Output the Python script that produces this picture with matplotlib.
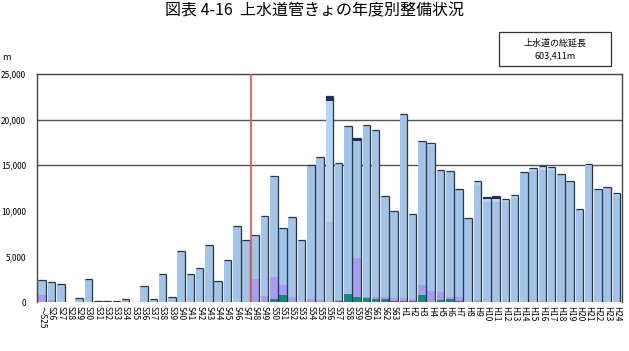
import matplotlib
matplotlib.use("Agg")
import numpy as np
import matplotlib.pyplot as plt

plt.rcParams['font.family'] = ['Noto Sans CJK JP', 'DejaVu Sans']

years = ["～S25"] + ["S%d" % n for n in range(26, 64)] + ["H%d" % n for n in range(1, 25)]

# totals (m)
totals = [2380, 2160, 1970, 0, 400, 2520, 100, 100, 60, 300, 50,
          1790, 350, 3100, 600, 5590, 3100, 3760, 6250, 2300, 4600,
          8330, 6800, 7350, 9460, 13800, 8100, 9300, 6800, 15000, 15870,
          22600, 15200, 19300, 17950, 19370, 18900, 11620, 9940,
          20580, 9620, 17650, 17400, 14470, 14360, 12390, 9180, 13230,
          11550, 11660, 11300, 11700, 14290, 14660, 14880, 14850, 14000,
          13300, 10160, 15170, 12350, 12580, 11920]

teal = [0, 0, 0, 0, 0, 0, 0, 0, 0, 0, 0,
        0, 0, 0, 0, 0, 0, 0, 0, 0, 0,
        0, 0, 0, 0, 360, 730, 0, 0, 0, 0,
        0, 100, 880, 600, 400, 300, 300, 150,
        150, 150, 730, 0, 200, 300, 150, 0, 0,
        0, 0, 0, 0, 0, 0, 0, 0, 0,
        0, 0, 0, 0, 0, 0]

purple = [770, 250, 0, 0, 0, 0, 0, 0, 0, 100, 0,
          0, 0, 0, 0, 0, 0, 0, 0, 0, 0,
          0, 0, 2500, 700, 2340, 1130, 500, 0, 300, 250,
          0, 150, 0, 4200, 200, 200, 300, 250,
          250, 200, 1130, 1200, 950, 300, 350, 0, 250,
          0, 0, 150, 0, 0, 0, 150, 0, 0,
          0, 0, 0, 0, 0, 0]

light = [0, 0, 150, 0, 0, 0, 0, 0, 0, 0, 0,
         0, 0, 0, 0, 0, 0, 0, 0, 0, 0,
         0, 0, 0, 200, 150, 0, 0, 0, 0, 0,
         13330, 0, 0, 0, 0, 0, 0, 0,
         0, 0, 0, 300, 0, 0, 0, 0, 400,
         290, 370, 300, 300, 200, 300, 400, 400, 0,
         0, 0, 300, 0, 0, 300]

navy = [0, 0, 0, 0, 0, 0, 0, 0, 0, 0, 0,
        0, 0, 0, 0, 0, 0, 0, 0, 0, 0,
        0, 0, 0, 0, 0, 0, 0, 0, 0, 0,
        530, 0, 0, 300, 0, 0, 0, 0,
        0, 0, 0, 0, 0, 0, 0, 0, 0,
        260, 360, 0, 0, 0, 0, 0, 0, 0,
        0, 0, 0, 0, 0, 0]

teal = np.array(teal)
purple = np.array(purple)
light = np.array(light)
navy = np.array(navy)
main = np.array(totals) - teal - purple - light - navy

x = np.arange(len(years))
w = 0.82

fig = plt.figure(figsize=(6.29, 3.51), dpi=100)
ax = fig.add_axes([37.3 / 629, 49 / 351, 584.7 / 629, 228 / 351])

for yv in [15000, 20000]:
    ax.axhline(yv, color="#555555", lw=1.0, zorder=0)

bottom = np.zeros(len(x))
for vals, col in [(teal, "#0E8C80"), (purple, "#A39EF2"), (main, "#A2C4E8"),
                  (light, "#B3D6F6"), (navy, "#1C2F5A")]:
    ax.bar(x, vals, w, bottom=bottom, color=col, edgecolor="none", zorder=2)
    bottom = bottom + vals

# dark shadow edge on top and right of every bar
tot = np.array(totals)
has = tot > 0
ax.hlines(tot[has], x[has] - w / 2, x[has] + w / 2, color="#2A3440", lw=0.9, zorder=3)
ax.vlines(x[has] + w / 2, 0, tot[has], color="#2A3440", lw=0.9, zorder=3)

ax.axvline(22.5, color="#D9605A", lw=1.3, zorder=4)

ax.set_xlim(-0.53, 62.6)
ax.set_ylim(0, 25000)
ax.set_yticks(np.arange(0, 25001, 5000))
ax.set_yticklabels(["{:,}".format(v) for v in range(0, 25001, 5000)], fontsize=6)
ax.set_xticks(x)
ax.set_xticklabels(years, rotation=-90, fontsize=6, va="top", ha="center")
ax.tick_params(axis="y", length=0, pad=8)
ax.tick_params(axis="x", length=0, pad=3)

for s in ["left", "top", "right"]:
    ax.spines[s].set_color("#444444")
    ax.spines[s].set_linewidth(1.0)
ax.spines["bottom"].set_visible(False)

fig.text(0.5, 0.968, "図表 4-16  上水道管きょの年度別整備状況", ha="center", va="center",
         fontsize=11.5)
fig.text(2 / 629, 1 - 58 / 351, "m", ha="left", va="center", fontsize=6.5)

fig.patches.append(plt.Rectangle((499 / 629, 1 - 66 / 351), 112 / 629, 34 / 351,
                                 transform=fig.transFigure, fill=False,
                                 edgecolor="#333333", lw=0.9))
fig.text(555 / 629, 1 - 43.5 / 351, "上水道の総延長", ha="center", va="center", fontsize=6.5)
fig.text(555 / 629, 1 - 56 / 351, "603,411m", ha="center", va="center", fontsize=6.5)

fig.savefig("out.png", dpi=100)
